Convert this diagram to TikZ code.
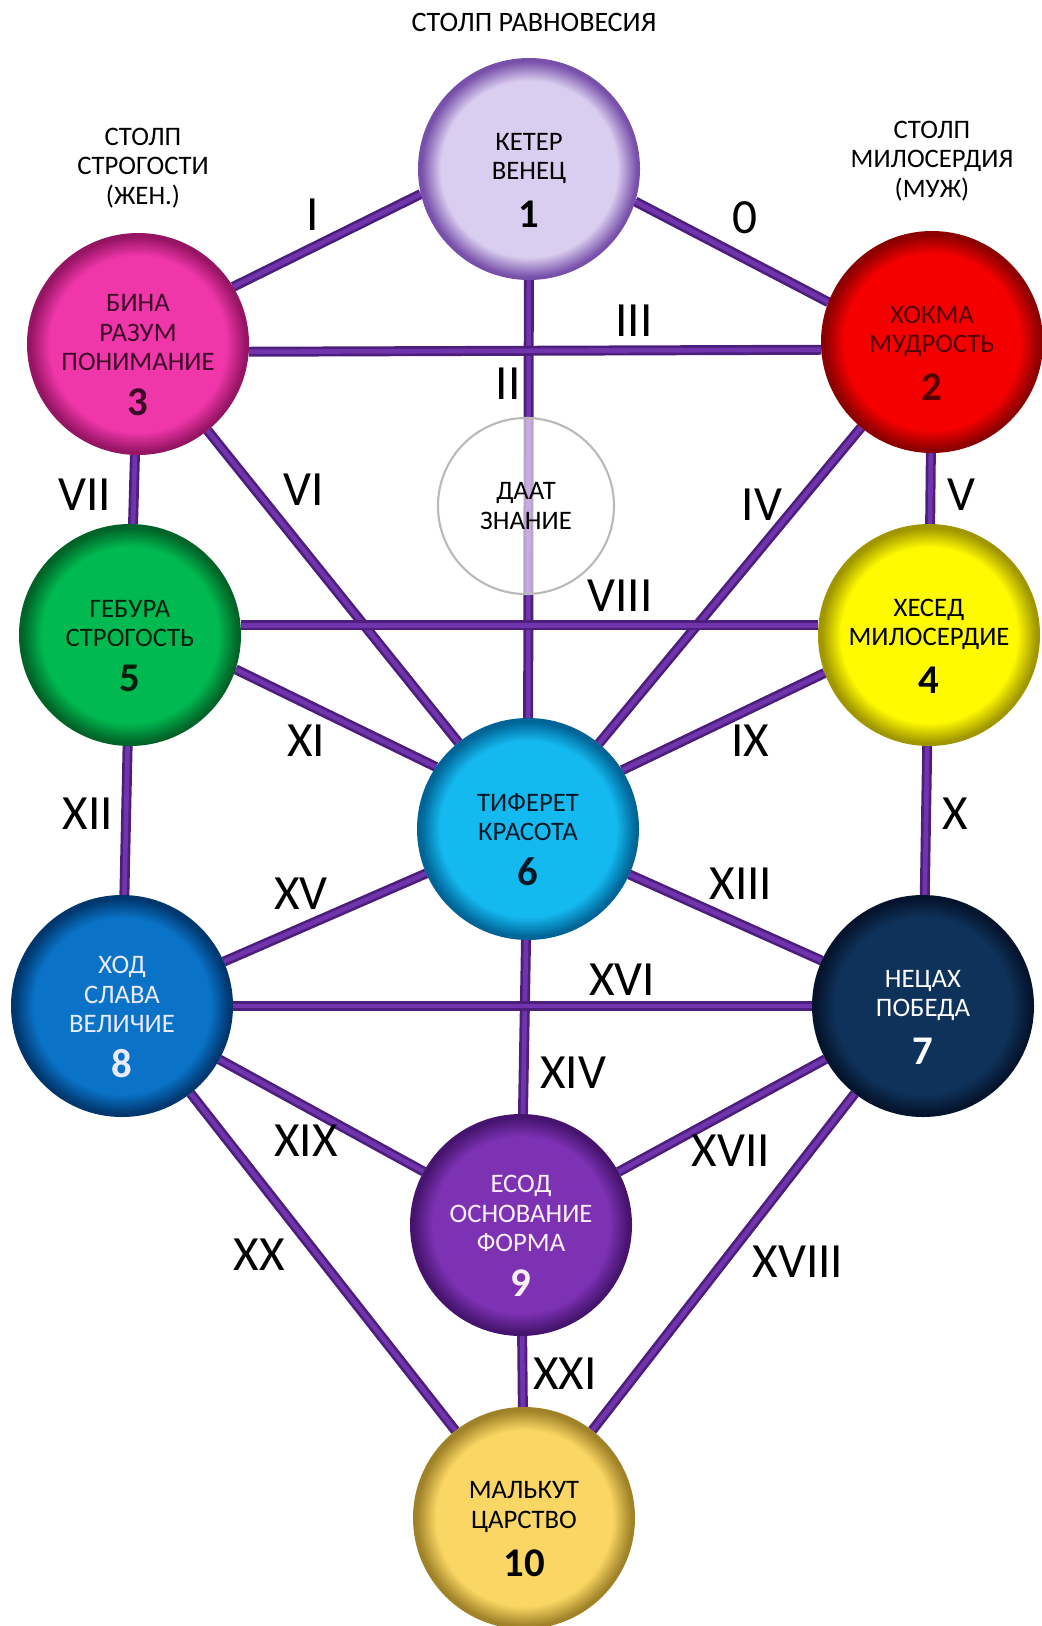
\documentclass[tikz,border=0pt]{standalone}
\usepackage{fontspec}
\setmainfont{Carlito}
\usetikzlibrary{positioning,backgrounds}

\definecolor{pathdark}{RGB}{78,30,125}
\definecolor{pathlight}{RGB}{112,52,172}
\definecolor{keterc}{RGB}{218,206,240}\definecolor{keterr}{RGB}{120,80,170}
\definecolor{binac}{RGB}{240,55,170}\definecolor{binar}{RGB}{150,20,100}
\definecolor{hokmac}{RGB}{245,0,0}\definecolor{hokmar}{RGB}{140,0,0}
\definecolor{geburac}{RGB}{0,185,80}\definecolor{geburar}{RGB}{0,100,40}
\definecolor{hesedc}{RGB}{255,250,0}\definecolor{hesedr}{RGB}{160,150,0}
\definecolor{tiferetc}{RGB}{20,185,240}\definecolor{tiferetr}{RGB}{0,100,150}
\definecolor{hodc}{RGB}{10,115,200}\definecolor{hodr}{RGB}{0,55,110}
\definecolor{netzahc}{RGB}{15,50,90}\definecolor{netzahr}{RGB}{5,20,45}
\definecolor{yesodc}{RGB}{125,50,180}\definecolor{yesodr}{RGB}{70,20,110}
\definecolor{malkutc}{RGB}{250,215,100}\definecolor{malkutr}{RGB}{160,130,40}

\pgfdeclareradialshading[sefbase,sefrim]{sefshade}{\pgfpoint{0bp}{0bp}}{color(0bp)=(sefbase); color(20bp)=(sefbase); color(24.5bp)=(sefrim); color(25bp)=(sefrim); color(50bp)=(sefrim)}

\newcommand\namefont{\fontsize{19}{21}\selectfont}
\newcommand\sefnum[1]{{\fontsize{29}{30}\selectfont\bfseries #1}}
\newcommand\toppad{\rule{0pt}{28pt}}

\tikzset{
  sefira/.style n args={3}{circle, minimum size=5.5cm, inner sep=0pt, align=center,
    shading=sefshade, /utils/exec={\colorlet{sefbase}{#1}\colorlet{sefrim}{#2}},
    draw=#2, line width=1.4pt, text=#3, font=\namefont},
  daatcircle/.style={circle, minimum size=4.4cm, inner sep=0pt, align=center,
    fill=white, fill opacity=0.6, text opacity=1, draw=gray!55, line width=1.5pt,
    font=\namefont},
  pathline/.style={draw=pathdark, line width=1.9pt, double=pathlight, double distance=3.3pt},
  pathnum/.style={font=\fontsize{35}{35}\selectfont},
  pillar/.style={align=center, font=\fontsize{19}{21}\selectfont}
}

\begin{document}
\begin{tikzpicture}[x=0.025cm, y=-0.025cm]
    \useasboundingbox (0,0) rectangle (1041,1626);

    % pillars
    \node[pillar, font=\fontsize{20}{22}\selectfont] (middle) at (534,22) {СТОЛП РАВНОВЕСИЯ};
    \node[pillar] (left) at (143,168) {СТОЛП\\СТРОГОСТИ\\(ЖЕН.)};
    \node[pillar] (right) at (932,161) {СТОЛП\\МИЛОСЕРДИЯ\\(МУЖ)};

    % sephirot
    \node[sefira={keterc}{keterr}{black}] (keter) at (529,169) {\toppad КЕТЕР\\ВЕНЕЦ\\[11pt]\sefnum{1}};
    \node[sefira={hokmac}{hokmar}{hokmar!60!black}] (hokma) at (932,342) {\toppad ХОКМА\\МУДРОСТЬ\\[11pt]\sefnum{2}};
    \node[sefira={binac}{binar}{binar!40!black}] (bina) at (138,344) {\toppad БИНА\\РАЗУМ\\ПОНИМАНИЕ\\[11pt]\sefnum{3}};
    \node[daatcircle] (daat) at (526,506) {ДААТ\\ЗНАНИЕ};
    \node[sefira={hesedc}{hesedr}{black}] (hesed) at (929,635) {\toppad ХЕСЕД\\МИЛОСЕРДИЕ\\[11pt]\sefnum{4}};
    \node[sefira={geburac}{geburar}{geburar!30!black}] (gebura) at (130,635) {\toppad ГЕБУРА\\СТРОГОСТЬ\\[11pt]\sefnum{5}};
    \node[sefira={tiferetc}{tiferetr}{tiferetr!25!black}] (tiferet) at (528,829) {\toppad ТИФЕРЕТ\\КРАСОТА\\[11pt]\sefnum{6}};
    \node[sefira={netzahc}{netzahr}{white}] (netzah) at (923,1006) {\toppad НЕЦАХ\\ПОБЕДА\\[11pt]\sefnum{7}};
    \node[sefira={hodc}{hodr}{white!92!blue}] (hod) at (122,1006) {\toppad ХОД\\СЛАВА\\ВЕЛИЧИЕ\\[11pt]\sefnum{8}};
    \node[sefira={yesodc}{yesodr}{white!94!magenta}] (yesod) at (521,1225) {\toppad ЕСОД\\ОСНОВАНИЕ\\ФОРМА\\[11pt]\sefnum{9}};
    \node[sefira={malkutc}{malkutr}{black}] (malkut) at (524,1518) {\toppad МАЛЬКУТ\\ЦАРСТВО\\[11pt]\sefnum{10}};

    % paths
    \begin{pgfonlayer}{background}
    \draw[pathline] (keter.343) -- (hokma.159);
    \draw[pathline] (keter.193) -- (bina.31);
    \draw[pathline] (keter) -- (tiferet);
    \draw[pathline] (bina.-4) -- (hokma.184);
    \draw[pathline] (hokma) -- (tiferet);
    \draw[pathline] (hokma) -- (hesed);
    \draw[pathline] (bina) -- (tiferet);
    \draw[pathline] (bina) -- (gebura);
    \draw[pathline] (gebura.5) -- (hesed.175);
    \draw[pathline] (hesed.200) -- (tiferet.32);
    \draw[pathline] (hesed) -- (netzah);
    \draw[pathline] (gebura.-18) -- (tiferet.146);
    \draw[pathline] (gebura) -- (hod);
    \draw[pathline] (tiferet) -- (netzah);
    \draw[pathline] (tiferet) -- (yesod);
    \draw[pathline] (tiferet) -- (hod);
    \draw[pathline] (hod) -- (netzah);
    \draw[pathline] (netzah) -- (yesod);
    \draw[pathline] (netzah) -- (malkut);
    \draw[pathline] (hod) -- (yesod);
    \draw[pathline] (hod) -- (malkut);
    \draw[pathline] (yesod) -- (malkut);
    \end{pgfonlayer}

    % path numbers
    \node[pathnum] (p0) at (745,218) {0};
    \node[pathnum] (p1) at (313,215) {I};
    \node[pathnum] (p2) at (508,384) {II};
    \node[pathnum] (p3) at (634,321) {III};
    \node[pathnum] (p4) at (762,505) {IV};
    \node[pathnum] (p5) at (961,495) {V};
    \node[pathnum] (p6) at (304,490) {VI};
    \node[pathnum] (p7) at (85,495) {VII};
    \node[pathnum] (p8) at (620,596) {VIII};
    \node[pathnum] (p9) at (750,741) {IX};
    \node[pathnum] (p10) at (955,814) {X};
    \node[pathnum] (p11) at (306,741) {XI};
    \node[pathnum] (p12) at (88,814) {XII};
    \node[pathnum] (p13) at (741,884) {XIII};
    \node[pathnum] (p14) at (573,1073) {XIV};
    \node[pathnum] (p15) at (301,894) {XV};
    \node[pathnum] (p16) at (622,980) {XVI};
    \node[pathnum] (p17) at (731,1151) {XVII};
    \node[pathnum] (p18) at (798,1262) {XVIII};
    \node[pathnum] (p19) at (306,1141) {XIX};
    \node[pathnum] (p20) at (259,1255) {XX};
    \node[pathnum] (p21) at (565,1374) {XXI};
\end{tikzpicture}
\end{document}
